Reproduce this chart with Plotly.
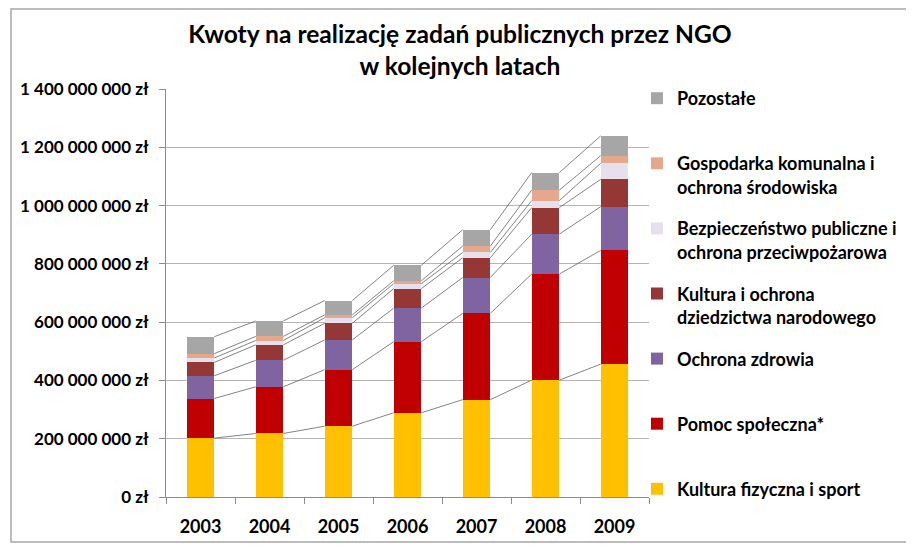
import plotly.graph_objects as go

# Kwoty (zł) w podziale na obszary
lata = ["2003", "2004", "2005", "2006", "2007", "2008", "2009"]

kultura_fizyczna = [202e6, 218e6, 243e6, 289e6, 334e6, 401e6, 456e6]
pomoc_spoleczna = [136e6, 160e6, 194e6, 244e6, 296e6, 364e6, 390e6]
ochrona_zdrowia = [78e6, 91e6, 102e6, 115e6, 123e6, 137e6, 150e6]
kultura_dziedzictwo = [46e6, 53e6, 57e6, 67e6, 68e6, 91e6, 94e6]
bezpieczenstwo = [15e6, 15e6, 19e6, 17e6, 18e6, 24e6, 55e6]
gospodarka = [15e6, 14e6, 10e6, 10e6, 22e6, 36e6, 26e6]
pozostale = [58e6, 53e6, 49e6, 53e6, 56e6, 60e6, 68e6]

serie = [
    ("Kultura fizyczna i sport", kultura_fizyczna, "#FFC000"),
    ("Pomoc społeczna*", pomoc_spoleczna, "#C00000"),
    ("Ochrona zdrowia", ochrona_zdrowia, "#8064A2"),
    ("Kultura i ochrona<br>dziedzictwa narodowego", kultura_dziedzictwo, "#953735"),
    ("Bezpieczeństwo publiczne i<br>ochrona przeciwpożarowa", bezpieczenstwo, "#E6E0EC"),
    ("Gospodarka komunalna i<br>ochrona środowiska", gospodarka, "#E6A88C"),
    ("Pozostałe", pozostale, "#A6A6A6"),
]

FONT = "Lato"
BAR_W = 0.4
x = list(range(len(lata)))

fig = go.Figure()

cum = [0.0] * len(lata)
for k, (name, vals, color) in enumerate(serie):
    label = name if "<br>" in name else name + "<br> "
    fig.add_trace(go.Bar(
        x=x, y=vals, name=label, legendgroup=name, legendrank=100 - k,
        marker=dict(color=color, line=dict(width=0)),
        width=BAR_W,
    ))
    cum = [c + v for c, v in zip(cum, vals)]
    # linie serii łączące wierzchołki segmentów
    lx, ly = [], []
    for i in range(len(lata) - 1):
        lx += [i + BAR_W / 2, i + 1 - BAR_W / 2, None]
        ly += [cum[i], cum[i + 1], None]
    fig.add_trace(go.Scatter(
        x=lx, y=ly, mode="lines", showlegend=False, hoverinfo="skip",
        line=dict(color="#595959", width=0.75),
    ))

# strona html ma 8 px marginesu, więc figura jest o tyle mniejsza
OFF = 8
W, H = 914 - OFF, 551 - OFF
# obszar wykresu we współrzędnych ekranu
L, R, T, B = 166, 649, 89, 497
def px_x(p):
    return (p - L) / (R - L)
def px_y(p):
    return (B - p) / (B - T)

fig.add_shape(type="rect", xref="paper", yref="paper",
              x0=px_x(11), x1=px_x(909), y0=px_y(542), y1=px_y(9),
              line=dict(color="#a6a6a6", width=1.5), layer="below")

fig.update_layout(
    width=W, height=H,
    barmode="stack",
    separators=", ",
    paper_bgcolor="white", plot_bgcolor="white",
    margin=dict(l=L - OFF, r=W - (R - OFF), t=T - OFF, b=H - (B - OFF), autoexpand=False),
    title=dict(
        text="Kwoty na realizację zadań publicznych przez NGO<br>w kolejnych latach",
        x=(460 - OFF) / W, xanchor="center", xref="container",
        y=1 - 35 / H, yanchor="top", yref="container",
        font=dict(family=FONT, size=24.6, weight="bold", color="black"),
    ),
    legend=dict(
        x=px_x(637), xanchor="left", y=px_y(80), yanchor="top",
        traceorder="grouped", tracegroupgap=15.3, valign="top",
        maxheight=540,
        font=dict(family=FONT, size=18, weight="bold", color="black"),
        bgcolor="rgba(0,0,0,0)",
    ),
    showlegend=True,
)

fig.update_yaxes(
    range=[0, 1.4e9], dtick=2e8, tickformat=",d", ticksuffix=" zł",
    showgrid=True, gridcolor="#b4b4b4", gridwidth=1,
    showline=True, linecolor="#8c8c8c", linewidth=1,
    ticks="outside", ticklen=6, tickcolor="#8c8c8c",
    ticklabelstandoff=7,
    tickfont=dict(family=FONT, size=17, weight="bold", color="black"),
    zeroline=False,
)
fig.update_xaxes(
    range=[-0.5, len(lata) - 0.5],
    tickmode="array", tickvals=x, ticktext=lata,
    ticks="", showgrid=False,
    showline=True, linecolor="#8c8c8c", linewidth=1,
    minor=dict(tick0=0.5, dtick=1, ticks="outside", ticklen=6, tickcolor="#8c8c8c", showgrid=False),
    ticklabelstandoff=13,
    tickfont=dict(family=FONT, size=18, weight="bold", color="black"),
    zeroline=False,
)

fig.write_html("out.html")
